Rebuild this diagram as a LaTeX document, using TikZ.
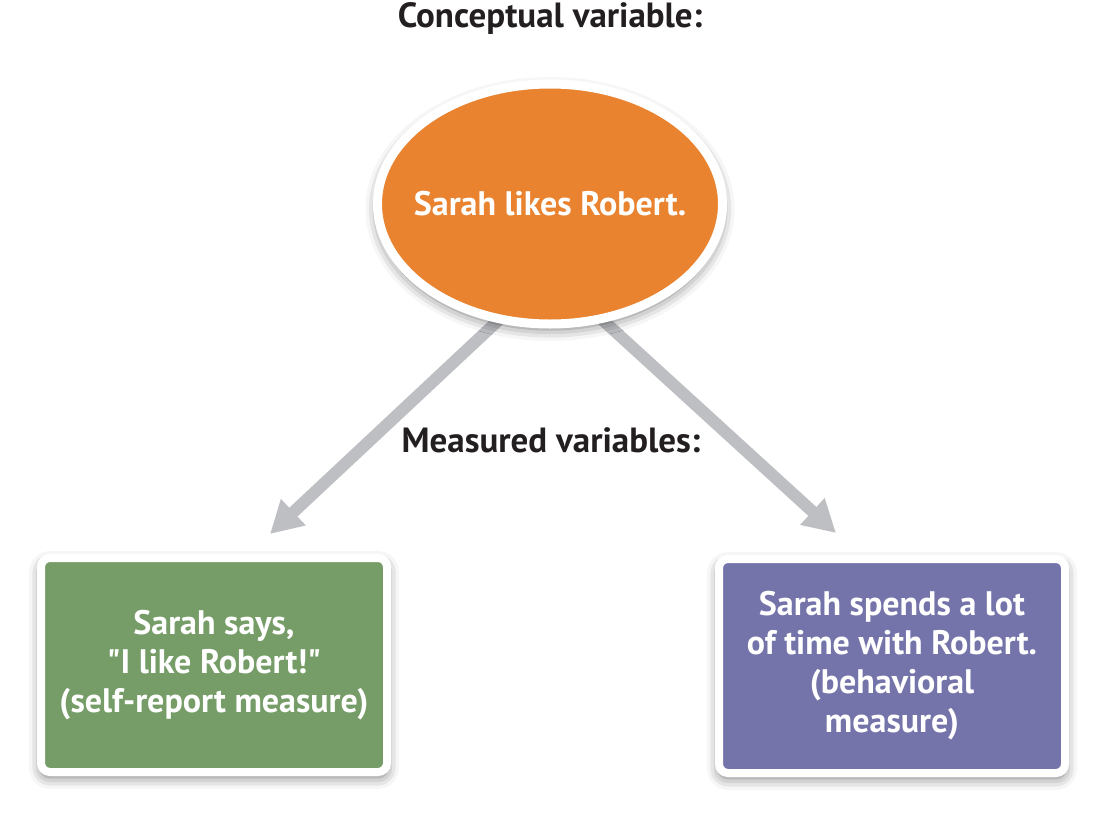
\documentclass[tikz,border=0pt]{standalone}
\usepackage{fontspec}
\setmainfont{PT Sans}
\usetikzlibrary{shapes.geometric,arrows.meta,shadows.blur,backgrounds}
\definecolor{likeorange}{RGB}{233,131,48}
\definecolor{saygreen}{RGB}{118,157,104}
\definecolor{spendpurple}{RGB}{116,116,170}
\definecolor{arrowgray}{RGB}{190,191,195}
\definecolor{headblack}{RGB}{35,31,32}
\begin{document}
\begin{tikzpicture}[x=1pt,y=-1pt,
		heading/.style={font=\fontsize{35}{40}\selectfont\bfseries,text=headblack,anchor=base},
		bubble/.style={font=\fontsize{34}{39}\selectfont\bfseries,text=white,align=center,draw=white,line width=9pt,
			blur shadow={shadow xshift=0pt,shadow yshift=-5pt,shadow blur radius=12pt,shadow opacity=55}},
		measurebox/.style={bubble,rectangle,rounded corners=9pt,line width=8pt,minimum width=346pt,minimum height=214pt},
		measurearrow/.style={draw=arrowgray,fill=arrowgray,line width=12pt,-{Triangle[width=34pt,length=32pt]}}]
			\useasboundingbox (0,0) rectangle (1107,814);
			\node[heading] (concepthead) at (550,27) {Conceptual variable:};
			\node[bubble,ellipse,fill=likeorange,inner xsep=-16pt,minimum width=345pt,minimum height=240pt] (concept) at (550,204) {Sarah likes Robert.};
			\node[heading] (measurehead) at (551,452) {Measured variables:};
			\node[measurebox,fill=saygreen] (selfreport) at (214,665) {Sarah says,\\\textquotedbl I like Robert!\textquotedbl\\(self-report measure)};
			\node[measurebox,fill=spendpurple] (behavioral) at (892,666) {Sarah spends a lot\\of time with Robert.\\(behavioral\\measure)};
			\coordinate (fork) at ([yshift=-68pt]concept.center);
			\begin{scope}[on background layer]
				\draw[measurearrow] (fork) -- ([xshift=56pt,yshift=20pt]selfreport.north);
				\draw[measurearrow] (fork) -- ([xshift=-56pt,yshift=22pt]behavioral.north);
			\end{scope}
		\end{tikzpicture}
\end{document}
